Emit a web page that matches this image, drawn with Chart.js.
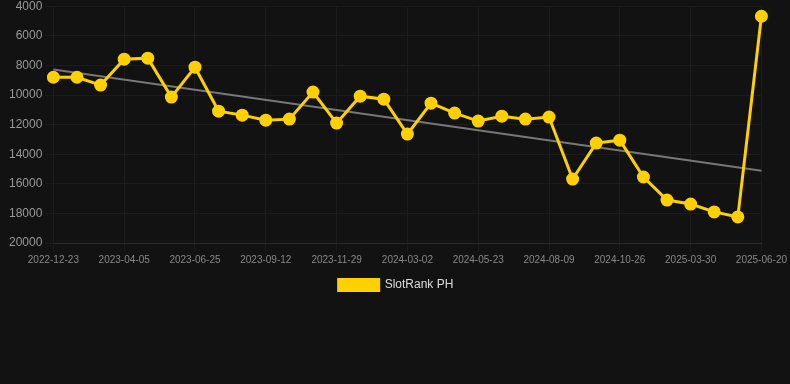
<!DOCTYPE html>
<html>
<head>
<meta charset="utf-8">
<script src="https://cdn.jsdelivr.net/npm/chart.js@4/dist/chart.umd.min.js"></script>
<style>
  html, body { margin: 0; padding: 0; background: #121212; overflow: hidden; }
  #wrap { width: 790px; height: 305px; position: relative; margin-top: -4px; }
</style>
</head>
<body>
<div id="wrap"><canvas id="c"></canvas></div>
<script>
const categories = [
  "2022-12-23","2023-01-27","2023-03-02","2023-04-05","2023-05-01","2023-05-28",
  "2023-06-25","2023-07-21","2023-08-17","2023-09-12","2023-10-08","2023-11-03",
  "2023-11-29","2023-12-31","2024-01-31","2024-03-02","2024-03-29","2024-04-26",
  "2024-05-23","2024-06-18","2024-07-14","2024-08-09","2024-09-04","2024-09-30",
  "2024-10-26","2024-12-15","2025-02-05","2025-03-30","2025-04-24","2025-05-22",
  "2025-06-20"
];
const rankValues = [
  8800, 8800, 9330, 7580, 7510, 10140,
  8120, 11090, 11360, 11700, 11630, 9800,
  11900, 10080, 10280, 12640, 10550, 11220,
  11760, 11430, 11630, 11490, 15680, 13250,
  13050, 15540, 17100, 17370, 17900, 18240,
  4680
];
const trendStart = 8275;
const trendEnd = 15120;
const yTicks = [4000, 6000, 8000, 10000, 12000, 14000, 16000, 18000, 20000];

const trendValues = categories.map((_, i) =>
  i === 0 ? trendStart : (i === categories.length - 1 ? trendEnd : null));

new Chart(document.getElementById('c'), {
  type: 'line',
  data: {
    labels: categories,
    datasets: [
      {
        label: 'SlotRank PH',
        data: rankValues,
        borderColor: '#FFD000',
        backgroundColor: '#FFD000',
        borderWidth: 3,
        pointRadius: 5,
        pointBackgroundColor: '#FFD000',
        pointBorderColor: '#FFD000',
        tension: 0,
        order: 1
      },
      {
        label: 'trend',
        data: trendValues,
        borderColor: '#777777',
        borderWidth: 2,
        pointRadius: 0,
        spanGaps: true,
        fill: false,
        order: 2
      }
    ]
  },
  options: {
    responsive: true,
    maintainAspectRatio: false,
    animation: false,
    layout: { padding: { left: 6, right: 4 } },
    plugins: {
      legend: {
        position: 'bottom',
        labels: {
          color: '#dddddd',
          font: { size: 12, family: 'Liberation Sans, Arial, sans-serif' },
          boxWidth: 40,
          boxHeight: 11,
          filter: (item) => item.text !== 'trend'
        }
      },
      tooltip: { enabled: false }
    },
    scales: {
      x: {
        grid: { color: '#1c1c1c', tickColor: '#1c1c1c' },
        border: { color: '#2a2a2a' },
        ticks: {
          color: '#888888',
          font: { size: 10, family: 'Liberation Sans, Arial, sans-serif' },
          maxRotation: 0,
          autoSkip: false,
          callback: function(v, i) { return i % 3 === 0 ? this.getLabelForValue(v) : null; }
        }
      },
      y: {
        reverse: true,
        min: 4000,
        max: 20000,
        grid: { color: '#1c1c1c', tickColor: '#1c1c1c' },
        border: { color: '#1c1c1c' },
        afterBuildTicks: (axis) => { axis.ticks = yTicks.map(v => ({ value: v })); },
        ticks: {
          color: '#999999',
          font: { size: 12, family: 'Liberation Sans, Arial, sans-serif' },
          callback: (v) => String(v)
        }
      }
    }
  }
});
</script>
</body>
</html>
